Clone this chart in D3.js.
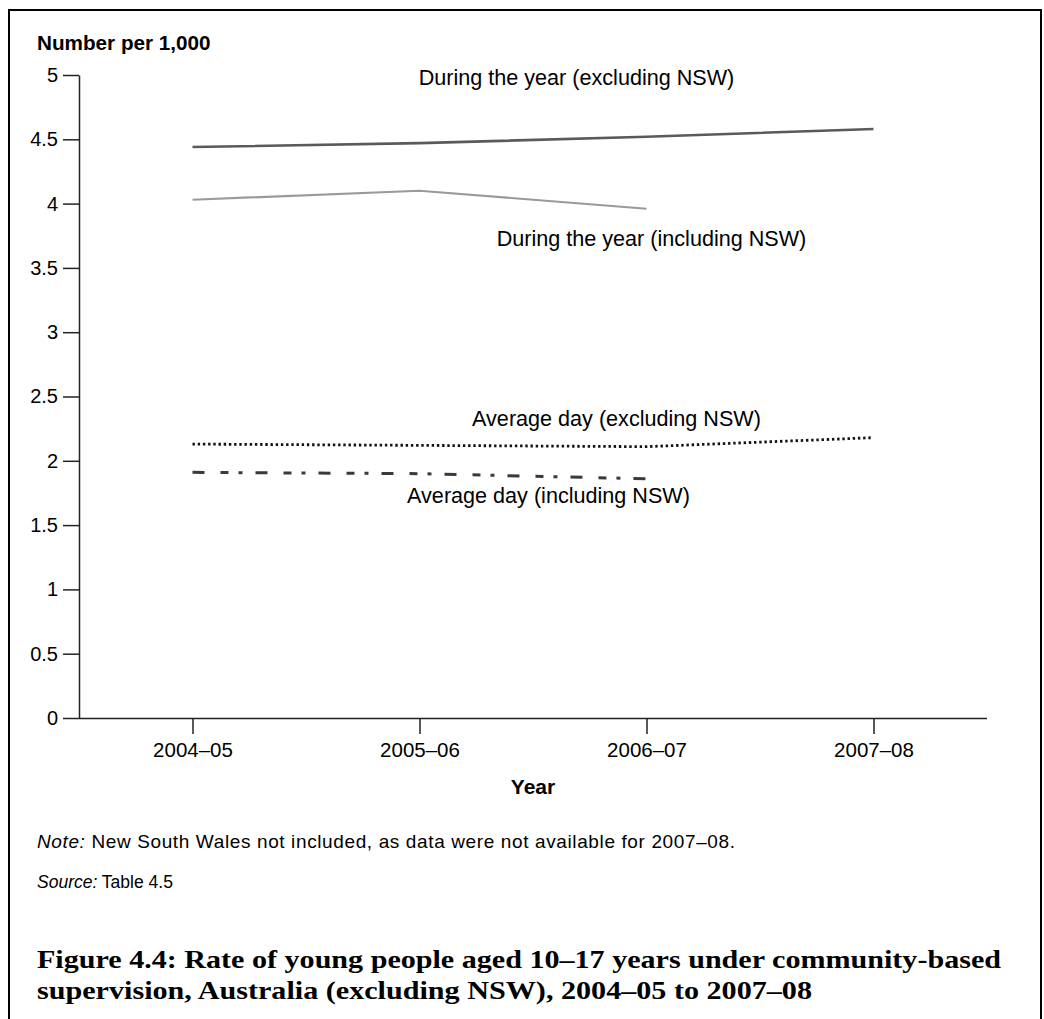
<!DOCTYPE html>
<html>
<head>
<meta charset="utf-8">
<script src="https://cdn.jsdelivr.net/npm/d3@7"></script>
<style>
  html, body { margin: 0; padding: 0; background: #fff; }
  svg { display: block; }
  text { font-family: "Liberation Sans", Arial, sans-serif; fill: #000; }
</style>
</head>
<body>
<svg id="chart" width="1044" height="1019"></svg>
<script>
// ---- data ----
const years = ["2004–05", "2005–06", "2006–07", "2007–08"];
const yTicks = [0, 0.5, 1, 1.5, 2, 2.5, 3, 3.5, 4, 4.5, 5];
const duringYearExcl = [4.44, 4.47, 4.52, 4.58];
const duringYearIncl = [4.03, 4.10, 3.96];
const avgDayExcl = [2.13, 2.12, 2.11, 2.18];
const avgDayIncl = [1.91, 1.90, 1.86];
const seriesNames = [
  "During the year (excluding NSW)",
  "During the year (including NSW)",
  "Average day (excluding NSW)",
  "Average day (including NSW)"
];

// ---- layout ----
const svg = d3.select("#chart");
const plotLeft = 79, plotRight = 987, plotTop = 75, plotBottom = 718;

const x = d3.scalePoint().domain(years).range([plotLeft, plotRight]).padding(0.5);
const y = d3.scaleLinear().domain([0, 5]).range([plotBottom, plotTop]);

// frame border (open at bottom)
svg.append("path")
  .attr("d", "M9,1019V10H1041V1019")
  .attr("fill", "none").attr("stroke", "#000").attr("stroke-width", 2);

// y axis
const yAxis = svg.append("g").attr("transform", `translate(${plotLeft},0)`)
  .call(d3.axisLeft(y).tickValues(yTicks).tickFormat(d3.format("~g"))
    .tickSize(16).tickSizeOuter(0).tickPadding(5));
yAxis.selectAll("path, line").attr("stroke", "#222").attr("stroke-width", 1.5);
yAxis.selectAll("text").style("font-size", "20px").style("font-family", '"Liberation Sans", Arial, sans-serif').attr("fill", "#111");

// x axis
const xAxis = svg.append("g").attr("transform", `translate(0,${plotBottom})`)
  .call(d3.axisBottom(x).tickSize(16).tickSizeOuter(0).tickPadding(8));
xAxis.select(".domain").attr("d", `M${plotLeft},0.5H${plotRight}`);
xAxis.selectAll("path, line").attr("stroke", "#222").attr("stroke-width", 1.5);
xAxis.selectAll("text").style("font-size", "20.5px").style("font-family", '"Liberation Sans", Arial, sans-serif').attr("fill", "#111");

// y axis title
svg.append("text").attr("x", 37).attr("y", 50)
  .style("font-size", "20.7px").style("font-weight", "bold")
  .text("Number per 1,000");

// x axis title
svg.append("text").attr("x", (plotLeft + plotRight) / 2).attr("y", 794)
  .attr("text-anchor", "middle")
  .style("font-size", "21px").style("font-weight", "bold")
  .text("Year");

// ---- lines ----
const line = d3.line().x((d, i) => x(years[i])).y(d => y(d));

svg.append("path").datum(duringYearIncl).attr("d", line)
  .attr("fill", "none").attr("stroke", "#9a9a9a").attr("stroke-width", 2.2);
svg.append("path").datum(duringYearExcl).attr("d", line)
  .attr("fill", "none").attr("stroke", "#5a5a5a").attr("stroke-width", 2.6);
svg.append("path").datum(avgDayExcl).attr("d", line)
  .attr("fill", "none").attr("stroke", "#111").attr("stroke-width", 2.8)
  .attr("stroke-dasharray", "2.4,2.8");
svg.append("path").datum(avgDayIncl).attr("d", line)
  .attr("fill", "none").attr("stroke", "#3a3a3a").attr("stroke-width", 3)
  .attr("stroke-dasharray", "12,16,8,10,4,13");

// ---- series labels ----
const labelPos = [
  { cx: x(years[1]) + 157, v: 4.92 },
  { cx: x(years[2]) + 5, v: 3.67 },
  { cx: x(years[2]) - 30, v: 2.27 },
  { cx: x(years[1]) + 129, v: 1.67 }
];
svg.selectAll("text.slabel").data(seriesNames).join("text")
  .attr("class", "slabel")
  .attr("x", (d, i) => labelPos[i].cx)
  .attr("y", (d, i) => y(labelPos[i].v))
  .attr("text-anchor", "middle")
  .style("font-size", "21.6px")
  .attr("fill", "#111")
  .text(d => d);

// ---- notes ----
const note = svg.append("text").attr("x", 37).attr("y", 848).style("font-size", "19px")
  .attr("textLength", 698).attr("lengthAdjust", "spacing");
note.append("tspan").style("font-style", "italic").text("Note:");
note.append("tspan").text(" New South Wales not included, as data were not available for 2007–08.");

const src = svg.append("text").attr("x", 37).attr("y", 888).style("font-size", "17.5px");
src.append("tspan").style("font-style", "italic").text("Source:");
src.append("tspan").text(" Table 4.5");

// ---- figure title ----
const titleLines = [
  "Figure 4.4: Rate of young people aged 10–17 years under community-based",
  "supervision, Australia (excluding NSW), 2004–05 to 2007–08"
];
const titleWidths = [964, 775];
svg.selectAll("text.title").data(titleLines).join("text")
  .attr("class", "title")
  .attr("x", 37)
  .attr("y", (d, i) => 968 + i * 31)
  .attr("textLength", (d, i) => titleWidths[i])
  .attr("lengthAdjust", "spacingAndGlyphs")
  .style("font-family", '"Liberation Serif", "Times New Roman", serif')
  .style("font-size", "26px")
  .style("font-weight", "bold")
  .attr("fill", "#111")
  .text(d => d);
</script>
</body>
</html>
